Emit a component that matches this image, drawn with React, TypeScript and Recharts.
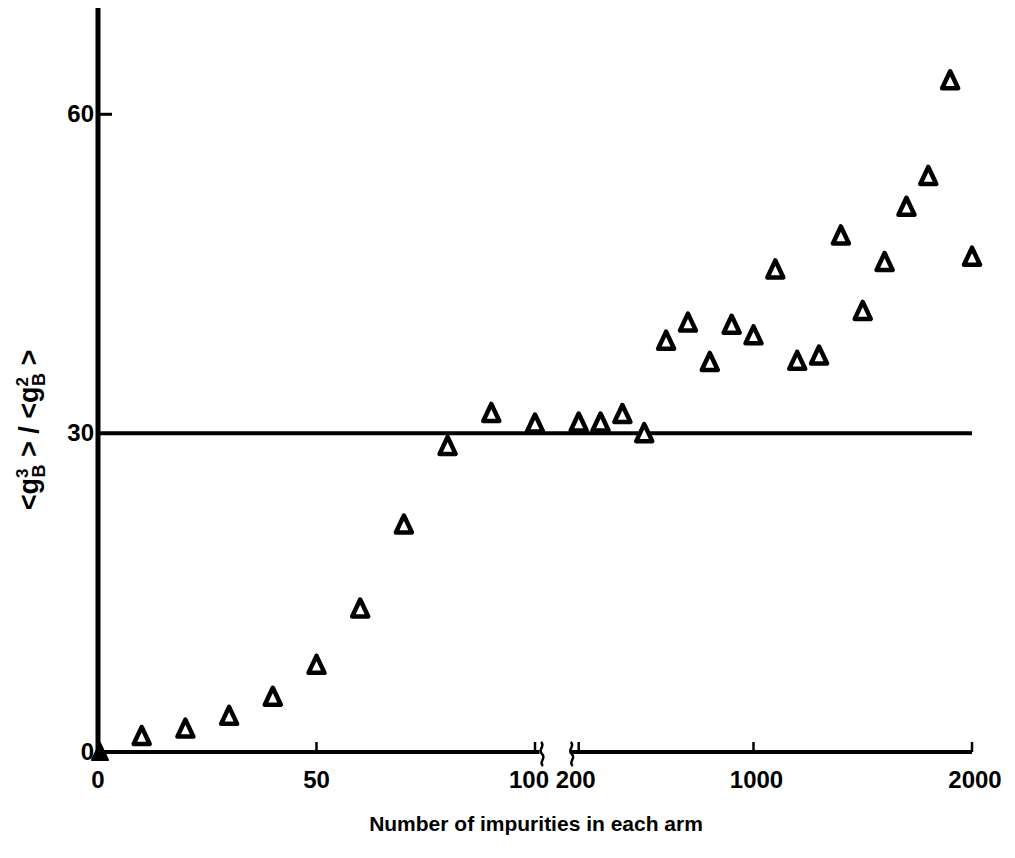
import React from 'react';
import { ComposedChart, Scatter, XAxis, YAxis, ReferenceLine, Label } from 'recharts';

// impurity counts on the linear part of the axis (0..100)
const lowCounts = [10, 20, 30, 40, 50, 60, 70, 80, 90, 100];
const lowRatios = [1.5, 2.2, 3.4, 5.2, 8.2, 13.5, 21.4, 28.8, 31.9, 30.9];

// impurity counts on the compressed part of the axis (200..2000)
const highCounts = [200, 300, 400, 500, 600, 700, 800, 900, 1000, 1100, 1200, 1300, 1400, 1500, 1600, 1700, 1800, 1900, 2000];
const highRatios = [31.0, 31.0, 31.8, 30.0, 38.7, 40.4, 36.7, 40.2, 39.2, 45.4, 36.8, 37.3, 48.6, 41.5, 46.1, 51.3, 54.2, 63.2, 46.6];

const originCount = [0];
const originRatio = [0];

const xTickValues = [0, 50, 100, 200, 1000, 2000];
const yTickValues = [0, 30, 60];
const referenceRatio = 30;

// broken x axis: 0..100 linear, then 200..2000 squeezed into the last stretch
const toAxis = (n: number) => (n <= 100 ? n : 110 + (n - 200) * 0.05);

const lowData = lowCounts.map((n, i) => ({ pos: toAxis(n), ratio: lowRatios[i] }));
const highData = highCounts.map((n, i) => ({ pos: toAxis(n), ratio: highRatios[i] }));
const originData = originCount.map((n, i) => ({ pos: toAxis(n), ratio: originRatio[i] }));

const FONT = '"Liberation Sans", Arial, sans-serif';

const OpenTriangle = ({ cx, cy }: any) => (
  <path
    d={`M${cx},${cy - 9} L${cx + 8},${cy + 8} L${cx - 8},${cy + 8} Z`}
    fill="#fff"
    stroke="#000"
    strokeWidth={4.5}
    strokeLinejoin="round"
  />
);

const FilledTriangle = ({ cx, cy }: any) => (
  <path
    d={`M${cx + 2},${cy - 9} L${cx + 10},${cy + 8} L${cx - 6},${cy + 8} Z`}
    fill="#000"
    stroke="#000"
    strokeWidth={2}
    strokeLinejoin="round"
  />
);

const labelFor = (pos: number) => {
  const idx = xTickValues.findIndex((v) => Math.abs(toAxis(v) - pos) < 1e-6);
  return idx >= 0 ? xTickValues[idx] : null;
};

const XTick = ({ x, y, payload }: any) => {
  const value = labelFor(payload.value);
  if (value === null) return null;
  const isBreakLeft = value === 100;
  const isBreakRight = value === 200;
  const dx = isBreakLeft ? -6 : isBreakRight ? -3 : value >= 1000 ? 3 : 0;
  return (
    <g>
      {value !== 0 && (
        <line x1={x} y1={y} x2={x} y2={y - 10} stroke="#000" strokeWidth={2.5} />
      )}
      {isBreakLeft && (
        <path
          d={`M${x + 6},${y - 10} c5,4 -4,8 1,12 c5,4 -4,8 1,12`}
          fill="none"
          stroke="#000"
          strokeWidth={2.5}
        />
      )}
      {isBreakRight && (
        <path
          d={`M${x - 8},${y - 10} c5,4 -4,8 1,12 c5,4 -4,8 1,12`}
          fill="none"
          stroke="#000"
          strokeWidth={2.5}
        />
      )}
      <text
        x={x + dx}
        y={y + 36}
        textAnchor="middle"
        fontFamily={FONT}
        fontWeight="bold"
        fontSize={24}
        fill="#000"
      >
        {value}
      </text>
    </g>
  );
};

const YTick = ({ x, y, payload }: any) => (
  <g>
    {payload.value > 0 && payload.value !== referenceRatio && (
      <line x1={x} y1={y} x2={x + 14} y2={y} stroke="#000" strokeWidth={3} />
    )}
    <text
      x={x - 4}
      y={y + 8}
      textAnchor="end"
      fontFamily={FONT}
      fontWeight="bold"
      fontSize={24}
      fill="#000"
    >
      {payload.value}
    </text>
  </g>
);

const YTitle = ({ viewBox }: any) => {
  const cx = 30;
  const cy = viewBox.y + viewBox.height / 2 + 50;
  return (
    <text
      transform={`rotate(-90, ${cx}, ${cy})`}
      x={cx}
      y={cy}
      textAnchor="middle"
      fontFamily={FONT}
      fontWeight="bold"
      fontSize={27}
      fill="#000"
    >
      {'<g'}
      <tspan dy={-10} fontSize={17}>3</tspan>
      <tspan dx={-9} dy={17} fontSize={18}>B</tspan>
      <tspan dy={-7}>{' > / <g'}</tspan>
      <tspan dy={-10} fontSize={17}>2</tspan>
      <tspan dx={-9} dy={17} fontSize={18}>B</tspan>
      <tspan dy={-7}>{' >'}</tspan>
    </text>
  );
};

const XTitle = ({ viewBox }: any) => (
  <text
    x={viewBox.x + viewBox.width / 2 + 1}
    y={viewBox.y + 79}
    textAnchor="middle"
    fontFamily={FONT}
    fontWeight="bold"
    fontSize={21}
    fill="#000"
  >
    Number of impurities in each arm
  </text>
);

export default function App() {
  return (
    <div style={{ width: 1000, height: 842, background: '#fff' }}>
      <ComposedChart
        width={1000}
        height={842}
        margin={{ top: 0, right: 36, bottom: 10, left: 30 }}
      >
        <XAxis
          type="number"
          dataKey="pos"
          domain={[0, 200]}
          ticks={xTickValues.map(toAxis)}
          interval={0}
          axisLine={false}
          tickLine={false}
          tickSize={0}
          tickMargin={0}
          height={88}
          tick={<XTick />}
        >
          <Label content={<XTitle />} />
        </XAxis>
        <YAxis
          type="number"
          dataKey="ratio"
          domain={[0, 70]}
          ticks={yTickValues}
          interval={0}
          axisLine={{ stroke: '#000', strokeWidth: 5 }}
          tickLine={false}
          tickSize={0}
          tickMargin={0}
          width={60}
          tick={<YTick />}
        >
          <Label content={<YTitle />} />
        </YAxis>
        <ReferenceLine
          segment={[{ x: toAxis(0), y: 0 }, { x: toAxis(100) + 1, y: 0 }]}
          stroke="#000"
          strokeWidth={4}
        />
        <ReferenceLine
          segment={[{ x: toAxis(200) - 2, y: 0 }, { x: toAxis(2000), y: 0 }]}
          stroke="#000"
          strokeWidth={4}
        />
        <ReferenceLine y={referenceRatio} stroke="#000" strokeWidth={4} />
        <Scatter data={lowData} shape={<OpenTriangle />} isAnimationActive={false} />
        <Scatter data={highData} shape={<OpenTriangle />} isAnimationActive={false} />
        <Scatter data={originData} shape={<FilledTriangle />} isAnimationActive={false} />
      </ComposedChart>
    </div>
  );
}
